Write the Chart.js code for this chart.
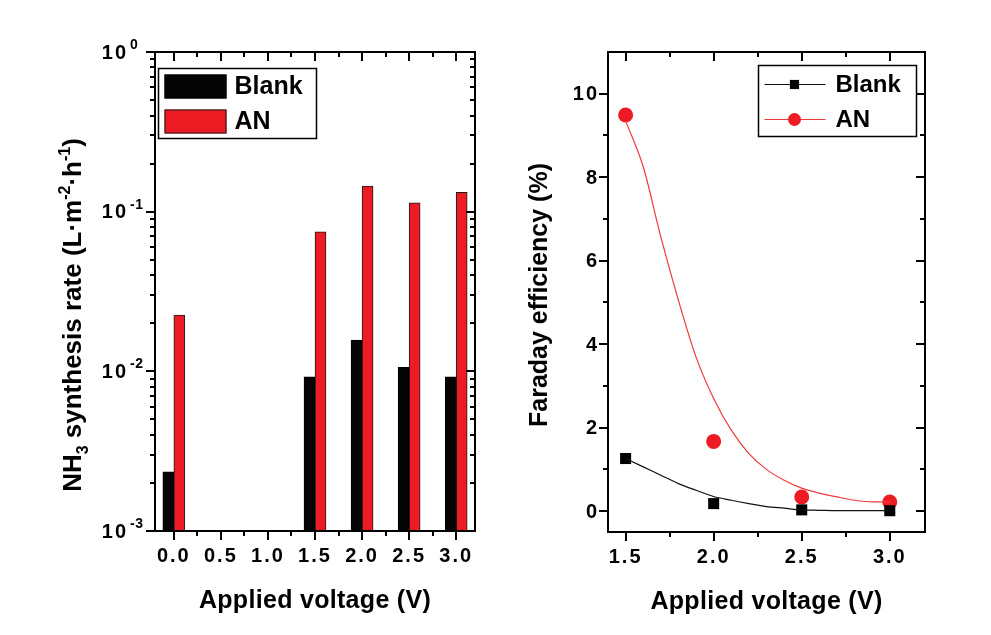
<!DOCTYPE html>
<html>
<head>
<meta charset="utf-8">
<script src="https://cdn.jsdelivr.net/npm/chart.js@4.4.1/dist/chart.umd.min.js"></script>
<style>
    html, body { margin: 0; padding: 0; background: #fff; }
    #wrap { position: relative; width: 991px; height: 635px; }
    .box { position: absolute; top: 0; height: 635px; }
</style>
</head>
<body>
<div id="wrap">
    <div class="box" style="left:0;width:495px"><canvas id="rateChart"></canvas></div>
    <div class="box" style="left:495px;width:496px"><canvas id="feChart"></canvas></div>
</div>
<script>
// NH3 synthesis rate (left panel, log axis)
const rateVoltages = [0.0, 1.5, 2.0, 2.5, 3.0];
const blankRate = [0.00235, 0.00925, 0.0157, 0.0106, 0.00925];
const anRate = [0.0225, 0.0748, 0.1445, 0.1137, 0.132];
const rateXTicks = [0.0, 0.5, 1.0, 1.5, 2.0, 2.5, 3.0];
const rateYTicks = [0.001, 0.01, 0.1, 1];
const rateYExponents = ["-3", "-2", "-1", "0"];

// Faraday efficiency (right panel)
const feVoltages = [1.5, 2.0, 2.5, 3.0];
const blankFE = [1.26, 0.18, 0.03, 0.01];
const anFE = [9.49, 1.67, 0.34, 0.22];
// fitted curves
const fitVoltages = [1.5, 1.6, 1.7, 1.8, 1.9, 2.0, 2.1, 2.2, 2.3, 2.4, 2.5, 2.6, 2.7, 2.8, 2.9, 3.0];
const blankFit = [1.26, 1.06, 0.86, 0.66, 0.5, 0.35, 0.26, 0.18, 0.11, 0.07, 0.03, 0.02, 0.01, 0.01, 0.01, 0.01];
const anFit = [9.35, 8.25, 6.57, 5.05, 3.69, 2.7, 1.94, 1.38, 1.0, 0.74, 0.55, 0.43, 0.34, 0.26, 0.22, 0.22];
const feXTicks = [1.5, 2.0, 2.5, 3.0];
const feYTicks = [0, 2, 4, 6, 8, 10];

const FONT = '"Liberation Sans", Arial, sans-serif';
const RED = "#ed1c24";

function text(ctx, str, x, y, size, align, spacing) {
    ctx.font = `bold ${size}px ${FONT}`;
    ctx.letterSpacing = (spacing || 0) + "px";
    ctx.textAlign = align;
    ctx.textBaseline = "middle";
    ctx.fillText(str, x, y);
    ctx.letterSpacing = "0px";
}

// text with sub (-1) / superscript (1) parts, centered on x
function richText(ctx, parts, x, y, size) {
    const small = Math.round(size * 0.62);
    let total = 0;
    for (const [str, kind] of parts) {
        ctx.font = `bold ${kind ? small : size}px ${FONT}`;
        total += ctx.measureText(str).width;
    }
    let cx = x - total / 2;
    ctx.textAlign = "left";
    ctx.textBaseline = "alphabetic";
    for (const [str, kind] of parts) {
        ctx.font = `bold ${kind ? small : size}px ${FONT}`;
        const dy = kind === 1 ? -size * 0.42 : kind === -1 ? size * 0.28 : 0;
        ctx.fillText(str, cx, y + dy);
        cx += ctx.measureText(str).width;
    }
}

function mids(list) {
    const out = [];
    for (let i = 0; i < list.length - 1; i++) out.push((list[i] + list[i + 1]) / 2);
    return out;
}

// Origin-style frame: ticks out on bottom/left, mirrored inward on top/right
function framePlugin(cfg) {
    return {
        id: "frame",
        afterDatasetsDraw(chart) {
            const { ctx, chartArea: a } = chart;
            const xs = chart.scales.x, ys = chart.scales.y;
            ctx.save();
            ctx.strokeStyle = "#000";
            ctx.lineWidth = 2;
            ctx.beginPath();
            const seg = (x1, y1, x2, y2) => { ctx.moveTo(x1, y1); ctx.lineTo(x2, y2); };
            const xTick = (v, len) => {
                const p = Math.round(xs.getPixelForValue(v));
                seg(p, a.bottom, p, a.bottom + len);
                seg(p, a.top, p, a.top + len);
            };
            const yTick = (v, len) => {
                const p = Math.round(ys.getPixelForValue(v));
                seg(a.left, p, a.left - len, p);
                seg(a.right, p, a.right - len, p);
            };
            cfg.xMajor.forEach((v) => xTick(v, 9));
            cfg.xMinor.forEach((v) => xTick(v, 5));
            cfg.yMajor.forEach((v) => yTick(v, 9));
            cfg.yMinor.forEach((v) => yTick(v, 5));
            ctx.stroke();
            ctx.strokeRect(a.left, a.top, a.right - a.left, a.bottom - a.top);

            ctx.fillStyle = "#000";
            cfg.xMajor.forEach((v) => {
                text(ctx, v.toFixed(1), xs.getPixelForValue(v), a.bottom + 25, 20, "center", 2);
            });
            cfg.yLabels(ctx, ys, a);
            text(ctx, "Applied voltage (V)", (a.left + a.right) / 2, a.bottom + 70, 25, "center", 0.3);
            cfg.yTitle(ctx, a);
            cfg.legend(ctx, a, chart);
            ctx.restore();
        },
    };
}

const rateMinor = [];
for (let e = -3; e < 0; e++) {
    for (let k = 2; k <= 9; k++) rateMinor.push(k * Math.pow(10, e));
}

new Chart(document.getElementById("rateChart"), {
    type: "bar",
    data: {
        datasets: [
            {
                label: "Blank",
                data: rateVoltages.map((v, i) => ({ x: v, y: blankRate[i] })),
                backgroundColor: "#050505",
                borderColor: "#000",
                borderWidth: 1,
            },
            {
                label: "AN",
                data: rateVoltages.map((v, i) => ({ x: v, y: anRate[i] })),
                backgroundColor: RED,
                borderColor: "#1a1a1a",
                borderWidth: 1,
            },
        ],
    },
    options: {
        responsive: true,
        maintainAspectRatio: false,
        animation: false,
        events: [],
        layout: { padding: { left: 0, top: 52, right: 20, bottom: 0 } },
        datasets: { bar: { barThickness: 11, grouped: true } },
        scales: {
            x: {
                type: "linear",
                min: -0.2,
                max: 3.2,
                offset: false,
                grid: { display: false },
                border: { display: false },
                ticks: { display: false },
                afterFit: (s) => { s.height = 104; },
            },
            y: {
                type: "logarithmic",
                min: 0.001,
                max: 1,
                grid: { display: false },
                border: { display: false },
                ticks: { display: false },
                afterFit: (s) => { s.width = 155; },
            },
        },
        plugins: { legend: { display: false }, tooltip: { enabled: false } },
    },
    plugins: [
        framePlugin({
            xMajor: rateXTicks,
            xMinor: mids(rateXTicks),
            yMajor: rateYTicks,
            yMinor: rateMinor,
            yLabels(ctx, ys, a) {
                rateYTicks.forEach((v, i) => {
                    const p = ys.getPixelForValue(v);
                    text(ctx, "10", a.left - 27, p + 1, 20, "right", 2);
                    text(ctx, rateYExponents[i], a.left - 25, p - 7, 14, "left", 0.5);
                });
            },
            yTitle(ctx, a) {
                ctx.save();
                ctx.translate(a.left - 74, 315);
                ctx.rotate(-Math.PI / 2);
                richText(ctx, [["NH", 0], ["3", -1], [" synthesis rate (L·m", 0], ["-2", 1], ["·h", 0], ["-1", 1], [")", 0]], 0, 0, 26);
                ctx.restore();
            },
            legend(ctx, a, chart) {
                const bx = a.left + 3.5, by = a.top + 16.5;
                ctx.lineWidth = 1.5;
                ctx.strokeStyle = "#000";
                ctx.strokeRect(bx, by, 158, 70);
                chart.data.datasets.forEach((ds, i) => {
                    const sy = by + 6 + i * 35;
                    ctx.fillStyle = ds.backgroundColor;
                    ctx.fillRect(bx + 6, sy, 62, 24);
                    ctx.lineWidth = 1;
                    ctx.strokeStyle = ds.borderColor;
                    ctx.strokeRect(bx + 6.5, sy + 0.5, 61, 23);
                    ctx.fillStyle = "#000";
                    text(ctx, ds.label, bx + 76, sy + 13, 25, "left", 0);
                });
            },
        }),
    ],
});

new Chart(document.getElementById("feChart"), {
    type: "scatter",
    data: {
        datasets: [
            {
                type: "line",
                label: "Blank fit",
                data: fitVoltages.map((v, i) => ({ x: v, y: blankFit[i] })),
                borderColor: "#111",
                borderWidth: 1.2,
                pointRadius: 0,
                cubicInterpolationMode: "monotone",
                fill: false,
            },
            {
                type: "line",
                label: "AN fit",
                data: fitVoltages.map((v, i) => ({ x: v, y: anFit[i] })),
                borderColor: "#f03a3a",
                borderWidth: 1.2,
                pointRadius: 0,
                cubicInterpolationMode: "monotone",
                fill: false,
            },
            {
                label: "Blank",
                data: feVoltages.map((v, i) => ({ x: v, y: blankFE[i] })),
                pointStyle: "rect",
                pointRadius: 7.8,
                backgroundColor: "#000",
                borderColor: "#000",
                borderWidth: 0,
            },
            {
                label: "AN",
                data: feVoltages.map((v, i) => ({ x: v, y: anFE[i] })),
                pointStyle: "circle",
                pointRadius: 7.5,
                backgroundColor: RED,
                borderColor: RED,
                borderWidth: 0,
            },
        ],
    },
    options: {
        responsive: true,
        maintainAspectRatio: false,
        animation: false,
        events: [],
        layout: { padding: { left: 0, top: 52, right: 66, bottom: 0 } },
        scales: {
            x: {
                type: "linear",
                min: 1.4,
                max: 3.2,
                grid: { display: false },
                border: { display: false },
                ticks: { display: false },
                afterFit: (s) => { s.height = 103; },
            },
            y: {
                type: "linear",
                min: -0.5,
                max: 11,
                grid: { display: false },
                border: { display: false },
                ticks: { display: false },
                afterFit: (s) => { s.width = 113; },
            },
        },
        plugins: { legend: { display: false }, tooltip: { enabled: false } },
    },
    plugins: [
        framePlugin({
            xMajor: feXTicks,
            xMinor: mids(feXTicks),
            yMajor: feYTicks,
            yMinor: mids(feYTicks),
            yLabels(ctx, ys, a) {
                feYTicks.forEach((v) => {
                    text(ctx, String(v), a.left - 9, ys.getPixelForValue(v) + 1, 20, "right", 2);
                });
            },
            yTitle(ctx, a) {
                ctx.save();
                ctx.translate(a.left - 68, 295);
                ctx.rotate(-Math.PI / 2);
                text(ctx, "Faraday efficiency (%)", 0, 0, 25, "center", 0);
                ctx.restore();
            },
            legend(ctx, a, chart) {
                const bx = a.right - 166.5, by = a.top + 13.5;
                ctx.lineWidth = 1.5;
                ctx.strokeStyle = "#000";
                ctx.strokeRect(bx, by, 158, 71);
                const rows = [[chart.data.datasets[0], chart.data.datasets[2]], [chart.data.datasets[1], chart.data.datasets[3]]];
                rows.forEach(([line, pts], i) => {
                    const cy = by + 19 + i * 35;
                    ctx.lineWidth = 1.2;
                    ctx.strokeStyle = line.borderColor;
                    ctx.beginPath();
                    ctx.moveTo(bx + 6, cy);
                    ctx.lineTo(bx + 67, cy);
                    ctx.stroke();
                    ctx.fillStyle = pts.backgroundColor;
                    Chart.helpers.drawPoint(ctx, {
                        pointStyle: pts.pointStyle,
                        radius: pts.pointStyle === "rect" ? 6.5 : 6.5,
                        borderWidth: 0,
                        rotation: 0,
                    }, bx + 36, cy);
                    ctx.fillStyle = "#000";
                    text(ctx, pts.label, bx + 77, cy + 1, 24, "left", 0);
                });
            },
        }),
    ],
});
</script>
</body>
</html>
